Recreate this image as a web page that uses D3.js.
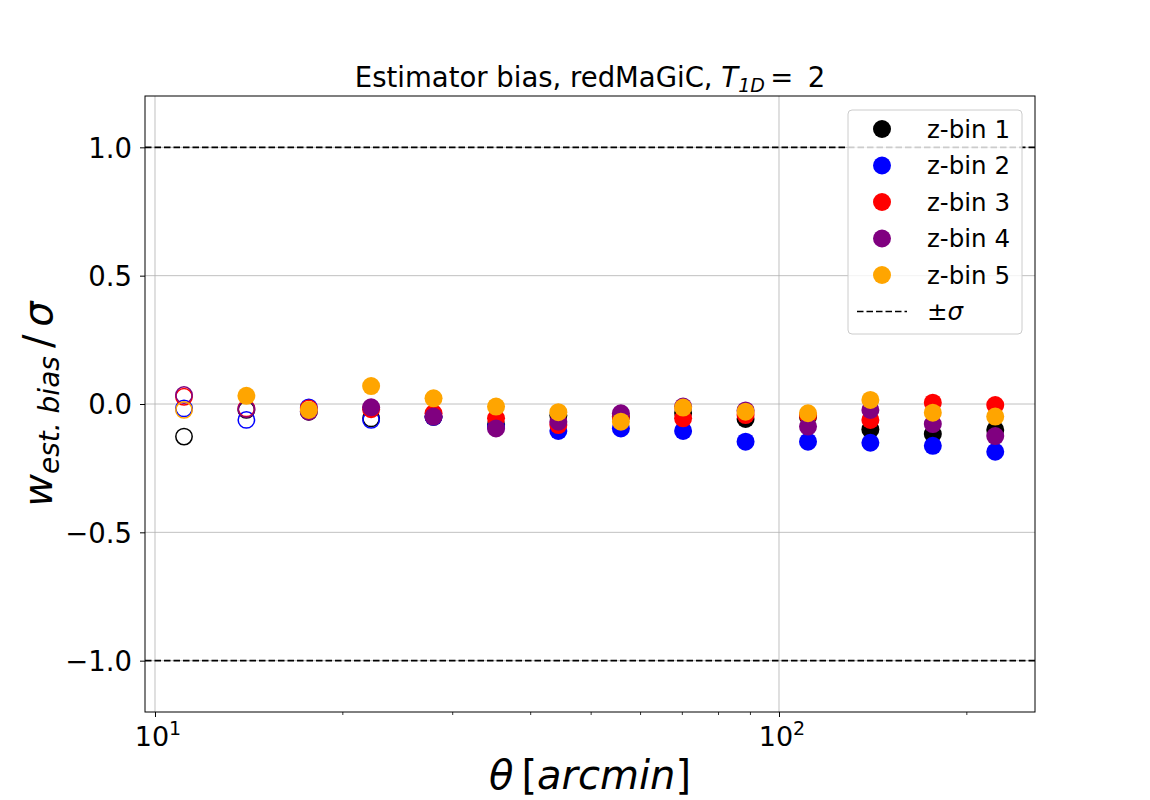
<!DOCTYPE html>
<html><head><meta charset="utf-8">
<script src="https://cdn.jsdelivr.net/npm/d3@7"></script>
<style>body{margin:0;background:#fff}text{font-family:"DejaVu Sans",sans-serif}</style>
</head><body><svg id="c" width="1150" height="800"></svg>
<script>
const theta = [11.13, 14.01, 17.64, 22.2, 27.95, 35.2, 44.3, 55.8, 70.2, 88.4, 111.3, 140.1, 176.4, 222.1];
const binNames = ["z-bin 1", "z-bin 2", "z-bin 3", "z-bin 4", "z-bin 5"];
const binColors = ["black", "blue", "red", "purple", "orange"];
const openCount = [4, 4, 3, 2, 1];
const bin1 = [-0.127, -0.023, -0.030, -0.056, -0.050, -0.080, -0.045, -0.050, -0.035, -0.058, -0.050, -0.099, -0.117, -0.101];
const bin2 = [-0.017, -0.062, -0.013, -0.062, -0.050, -0.090, -0.105, -0.095, -0.105, -0.147, -0.147, -0.151, -0.163, -0.186];
const bin3 = [0.028, -0.017, -0.017, -0.020, -0.036, -0.056, -0.082, -0.050, -0.056, -0.043, -0.045, -0.062, 0.005, -0.004];
const bin4 = [0.035, -0.020, -0.030, -0.013, -0.049, -0.095, -0.069, -0.036, -0.010, -0.025, -0.088, -0.023, -0.078, -0.125];
const bin5 = [-0.023, 0.032, -0.023, 0.070, 0.022, -0.010, -0.032, -0.069, -0.014, -0.030, -0.036, 0.016, -0.034, -0.049];
const series = [bin1, bin2, bin3, bin4, bin5];
const yTicks = [-1.0, -0.5, 0.0, 0.5, 1.0];
const xTicks = [10, 100];
const sigmaLines = [1, -1];

const svg = d3.select("#c");
const L = 145, R = 1035, T = 96, B = 712;
const x = d3.scaleLog().domain([9.638, 257.2]).range([L, R]);
const y = d3.scaleLinear().domain([-1.2, 1.2]).range([B, T]);
const dash = "6.5,3";

// grid
svg.append("g").selectAll("line").data(yTicks).join("line")
  .attr("x1", L).attr("x2", R).attr("y1", d => y(d)).attr("y2", d => y(d))
  .attr("stroke", "#b0b0b0").attr("stroke-width", 0.8);
svg.append("g").selectAll("line").data(xTicks).join("line")
  .attr("x1", d => x(d)).attr("x2", d => x(d)).attr("y1", T).attr("y2", B)
  .attr("stroke", "#b0b0b0").attr("stroke-width", 0.8);

// sigma lines
svg.append("g").selectAll("line").data(sigmaLines).join("line")
  .attr("x1", L).attr("x2", R).attr("y1", d => y(d)).attr("y2", d => y(d))
  .attr("stroke", "black").attr("stroke-width", 1.6).attr("stroke-dasharray", dash);

// points
series.forEach((vals, si) => {
  svg.append("g").selectAll("circle").data(vals).join("circle")
    .attr("cx", (d, i) => x(theta[i])).attr("cy", d => y(d))
    .attr("r", (d, i) => i < openCount[si] ? 8.2 : 9)
    .attr("fill", (d, i) => i < openCount[si] ? "none" : binColors[si])
    .attr("stroke", (d, i) => i < openCount[si] ? binColors[si] : "none")
    .attr("stroke-width", 1.5);
});

// frame
svg.append("rect").attr("x", L).attr("y", T).attr("width", R - L).attr("height", B - T)
  .attr("fill", "none").attr("stroke", "black").attr("stroke-width", 1);

// x axis
const xAxis = d3.axisBottom(x).tickValues(xTicks).tickSize(5).tickFormat("");
const gx = svg.append("g").attr("transform", `translate(0,${B})`).call(xAxis);
gx.select(".domain").remove();
gx.selectAll("line").attr("stroke-width", 1);
const minor = [];
for (const dec of [1, 10, 100]) for (let k = 2; k <= 9; k++) { const v = dec * k; if (v > 9.638 && v < 257.2) minor.push(v); }
svg.append("g").selectAll("line").data(minor).join("line")
  .attr("x1", d => x(d)).attr("x2", d => x(d)).attr("y1", B).attr("y2", B + 3)
  .attr("stroke", "black").attr("stroke-width", 0.8);
xTicks.forEach((t) => {
  const tx = svg.append("text").attr("x", x(t) + 3).attr("y", 746).attr("text-anchor", "middle")
    .attr("font-size", 27);
  tx.append("tspan").text("10");
  tx.append("tspan").attr("dy", -11).attr("font-size", 19).text(String(Math.round(Math.log10(t))));
});

// y axis
const yAxis = d3.axisLeft(y).tickValues(yTicks).tickSize(5).tickPadding(8).tickFormat(d => d3.format(".1f")(d).replace("-", "\u2212"));
const gy = svg.append("g").attr("transform", `translate(${L},0)`).call(yAxis);
gy.select(".domain").remove();
gy.selectAll("text").attr("font-size", 27.5).attr("font-family", "DejaVu Sans").attr("dy", "0.36em").attr("fill", "black");

// title
const title = svg.append("text").attr("x", 590).attr("y", 87).attr("text-anchor", "middle").attr("font-size", 27.5);
title.append("tspan").text("Estimator bias, redMaGiC, ");
title.append("tspan").attr("font-style", "italic").text("T");
title.append("tspan").attr("font-style", "italic").attr("font-size", 19).attr("dy", 5).text("1D");
title.append("tspan").attr("dy", -5).text("\u2009=\u2009 2");

// x label
const xl = svg.append("text").attr("x", 590).attr("y", 789).attr("text-anchor", "middle").attr("font-size", 40).attr("font-style", "italic");
xl.append("tspan").text("\u03b8");
xl.append("tspan").attr("font-style", "normal").text("\u2009[");
xl.append("tspan").text("arcmin");
xl.append("tspan").attr("font-style", "normal").text("]");

// y label
const yl = svg.append("text").attr("transform", "translate(52,404) rotate(-90)").attr("text-anchor", "middle")
  .attr("font-size", 40).attr("font-style", "italic");
yl.append("tspan").text("w");
yl.append("tspan").attr("font-size", 28).attr("dy", 7).text("est. bias");
yl.append("tspan").attr("dy", -7).attr("font-style", "normal").text("\u2009/\u2009");
yl.append("tspan").text("\u03c3");

// legend
const lg = svg.append("g");
lg.append("rect").attr("x", 848).attr("y", 110).attr("width", 174).attr("height", 224).attr("rx", 4)
  .attr("fill", "white").attr("fill-opacity", 0.8).attr("stroke", "#cccccc").attr("stroke-width", 1);
binNames.forEach((n, i) => {
  const cy = 129 + i * 36.5;
  lg.append("circle").attr("cx", 882).attr("cy", cy).attr("r", 9).attr("fill", binColors[i]);
  lg.append("text").attr("x", 927).attr("y", cy).attr("dy", "0.36em").attr("font-size", 24.5).text(n);
});
const sy = 129 + 5 * 36.5;
lg.append("line").attr("x1", 857).attr("x2", 907).attr("y1", sy).attr("y2", sy)
  .attr("stroke", "black").attr("stroke-width", 1.6).attr("stroke-dasharray", dash);
const st = lg.append("text").attr("x", 927).attr("y", sy).attr("dy", "0.36em").attr("font-size", 24.5);
st.append("tspan").text("\u00b1");
st.append("tspan").attr("font-style", "italic").text("\u03c3");
</script></body></html>
